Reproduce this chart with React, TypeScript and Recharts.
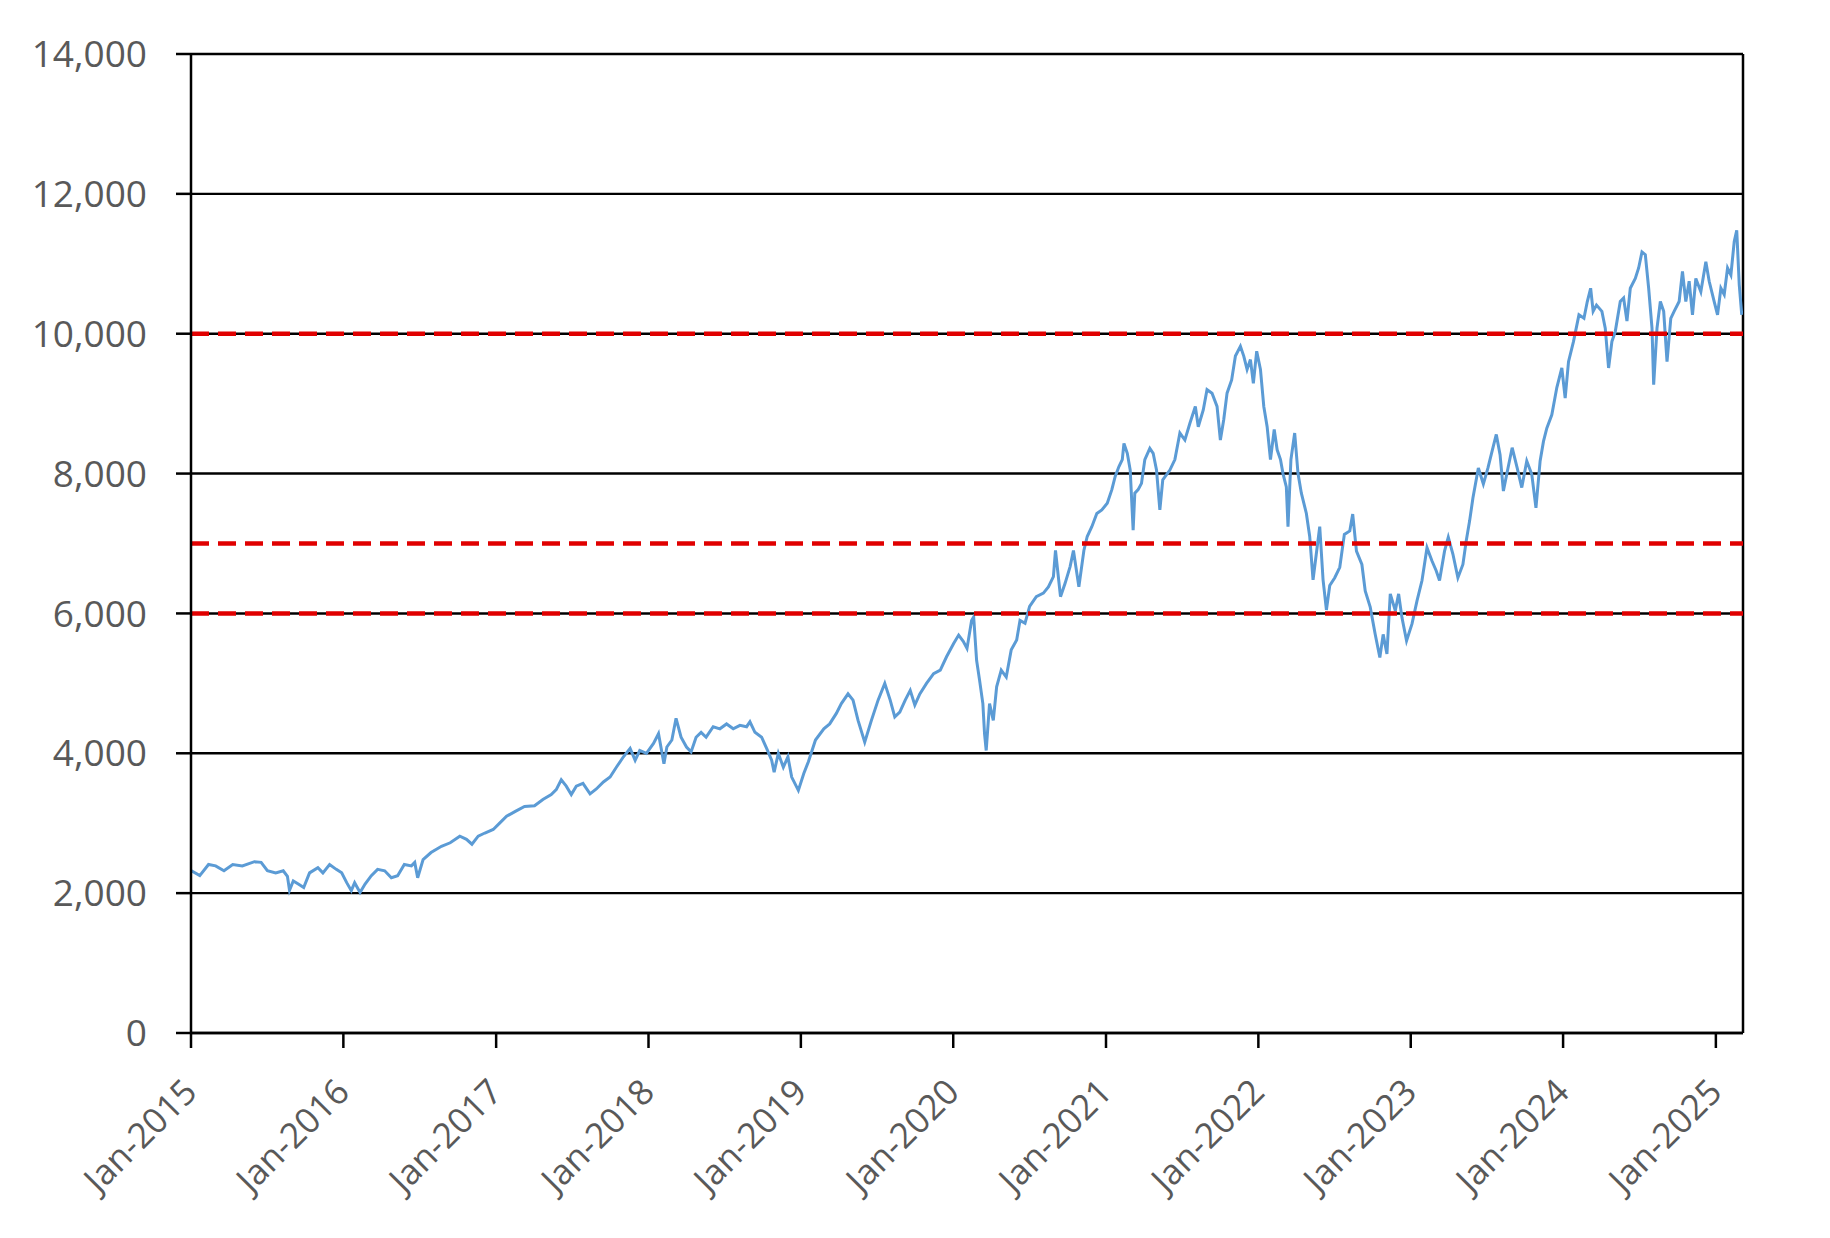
import React from "react";
import { LineChart, Line, XAxis, YAxis, CartesianGrid, ReferenceLine } from "recharts";

const dates: string[] = [
  "2015-01-02","2015-01-22","2015-02-12","2015-03-01","2015-03-21","2015-04-11","2015-05-04","2015-06-02","2015-06-18","2015-07-03","2015-07-23","2015-08-10","2015-08-20","2015-08-25","2015-09-03","2015-09-15","2015-09-28","2015-10-12","2015-11-01","2015-11-13","2015-11-29","2015-12-15","2015-12-28",
  "2016-01-09","2016-01-20","2016-01-28","2016-02-10","2016-02-22","2016-03-08","2016-03-23","2016-04-09","2016-04-25","2016-05-10","2016-05-26","2016-06-12","2016-06-20","2016-06-27","2016-07-10","2016-07-29","2016-08-23","2016-09-13","2016-10-06","2016-10-22","2016-11-04","2016-11-19","2016-12-05","2016-12-25",
  "2017-01-10","2017-01-26","2017-02-16","2017-03-10","2017-04-03","2017-04-23","2017-05-13","2017-05-25","2017-06-06","2017-06-18","2017-06-30","2017-07-12","2017-07-28","2017-08-14","2017-08-29","2017-09-15","2017-10-01","2017-10-16","2017-11-02","2017-11-18","2017-11-30","2017-12-11","2017-12-27",
  "2018-01-13","2018-01-25","2018-02-07","2018-02-14","2018-02-26","2018-03-08","2018-03-20","2018-04-02","2018-04-13","2018-04-25","2018-05-07","2018-05-19","2018-06-05","2018-06-21","2018-07-07","2018-07-23","2018-08-08","2018-08-24","2018-09-01","2018-09-13","2018-09-29","2018-10-11","2018-10-23","2018-10-29","2018-11-08","2018-11-20","2018-12-01","2018-12-10","2018-12-26",
  "2019-01-08","2019-01-19","2019-02-05","2019-02-25","2019-03-11","2019-03-27","2019-04-08","2019-04-24","2019-05-06","2019-05-18","2019-06-03","2019-06-19","2019-07-05","2019-07-21","2019-08-03","2019-08-14","2019-08-26","2019-09-08","2019-09-20","2019-10-01","2019-10-13","2019-10-29","2019-11-15","2019-12-01","2019-12-16",
  "2020-01-02","2020-01-14","2020-01-25","2020-02-03","2020-02-14","2020-02-19","2020-02-26","2020-03-04","2020-03-12","2020-03-16","2020-03-20","2020-03-28","2020-04-06","2020-04-14","2020-04-25","2020-05-07","2020-05-19","2020-06-01","2020-06-09","2020-06-21","2020-07-02","2020-07-18","2020-08-04","2020-08-16","2020-08-28","2020-09-02","2020-09-14","2020-09-25","2020-10-07","2020-10-15","2020-10-28","2020-11-09","2020-11-17","2020-11-28","2020-12-10","2020-12-22",
  "2021-01-04","2021-01-15","2021-01-23","2021-02-01","2021-02-09","2021-02-13","2021-02-21","2021-02-28","2021-03-07","2021-03-11","2021-03-19","2021-03-27","2021-04-04","2021-04-16","2021-04-24","2021-05-02","2021-05-10","2021-05-17","2021-06-03","2021-06-15","2021-06-27","2021-07-09","2021-07-21","2021-08-03","2021-08-10","2021-08-22","2021-08-31","2021-09-12","2021-09-24","2021-10-02","2021-10-10","2021-10-18","2021-10-29","2021-11-07","2021-11-19","2021-11-27","2021-12-05","2021-12-13","2021-12-20","2021-12-28",
  "2022-01-06","2022-01-14","2022-01-22","2022-01-30","2022-02-08","2022-02-15","2022-02-23","2022-03-01","2022-03-09","2022-03-13","2022-03-20","2022-03-29","2022-04-06","2022-04-14","2022-04-26","2022-05-04","2022-05-12","2022-05-20","2022-05-28","2022-06-05","2022-06-13","2022-06-21","2022-07-03","2022-07-15","2022-07-26","2022-08-08","2022-08-15","2022-08-24","2022-09-06","2022-09-14","2022-09-26","2022-10-08","2022-10-19","2022-10-27","2022-11-05","2022-11-13","2022-11-25","2022-12-03","2022-12-11","2022-12-22",
  "2023-01-04","2023-01-16","2023-01-28","2023-02-09","2023-02-21","2023-03-03","2023-03-11","2023-03-23","2023-04-01","2023-04-12","2023-04-24","2023-05-06","2023-05-14","2023-05-22","2023-05-30","2023-06-12","2023-06-24","2023-07-05","2023-07-17","2023-07-25","2023-08-03","2023-08-11","2023-08-19","2023-09-01","2023-09-13","2023-09-24","2023-10-06","2023-10-18","2023-10-28","2023-11-07","2023-11-15","2023-11-23","2023-12-05","2023-12-17","2023-12-29",
  "2024-01-06","2024-01-14","2024-01-26","2024-02-08","2024-02-20","2024-02-28","2024-03-07","2024-03-13","2024-03-21","2024-04-03","2024-04-11","2024-04-19","2024-04-27","2024-05-05","2024-05-17","2024-05-25","2024-06-02","2024-06-10","2024-06-22","2024-06-30","2024-07-08","2024-07-16","2024-07-24","2024-08-01","2024-08-05","2024-08-13","2024-08-21","2024-08-29","2024-09-06","2024-09-15","2024-09-23","2024-10-05","2024-10-13","2024-10-21","2024-10-29","2024-11-06","2024-11-14","2024-11-26","2024-12-08","2024-12-16","2024-12-28",
  "2025-01-05","2025-01-13","2025-01-21","2025-01-29","2025-02-06","2025-02-14","2025-02-20","2025-02-26","2025-03-04",
];

const values: number[] = [
  2320,2250,2410,2390,2320,2410,2390,2450,2440,2320,2290,2320,2240,2040,2175,2130,2080,2290,2365,2290,2410,2340,2290,
  2150,2035,2150,2010,2130,2250,2340,2320,2220,2250,2410,2390,2440,2220,2480,2580,2670,2720,2815,2770,2700,2815,2860,2910,
  3005,3100,3170,3240,3250,3340,3410,3480,3620,3530,3410,3530,3570,3420,3490,3590,3660,3800,3950,4070,3900,4040,4000,
  4140,4280,3850,4090,4190,4500,4230,4090,4020,4230,4300,4230,4380,4350,4420,4350,4400,4380,4450,4300,4230,4070,3900,3730,4000,3800,3950,3660,3470,
  3710,3880,4190,4350,4420,4570,4710,4850,4760,4470,4160,4470,4760,5000,4760,4520,4590,4760,4900,4690,4850,5000,5140,5190,5380,
  5570,5690,5600,5500,5900,5950,5330,5050,4710,4280,4040,4710,4470,4950,5190,5090,5480,5620,5900,5860,6100,6240,6290,6380,6525,6900,6240,6430,6670,6900,6380,6900,7100,7240,7430,7480,
  7575,7770,7960,8100,8200,8430,8290,8050,7190,7720,7770,7860,8200,8360,8290,8050,7480,7910,8050,8200,8580,8480,8720,8960,8670,8910,9200,9150,8960,8480,8770,9150,9340,9680,9820,9680,9490,9630,9290,9750,
  9490,8960,8670,8200,8630,8340,8200,8000,7810,7240,8200,8580,8000,7720,7430,7100,6480,6860,7240,6480,6050,6400,6510,6660,7130,7180,7420,6890,6700,6320,6090,5700,5370,5700,5420,6280,6040,6280,5940,5610,
  5850,6180,6470,6940,6750,6610,6470,6890,7090,6850,6510,6700,7040,7320,7650,8080,7850,8080,8370,8560,8270,7750,7990,8370,8080,7800,8180,7990,7510,8180,8460,8650,8840,9230,9510,
  9080,9600,9890,10270,10220,10460,10650,10320,10410,10320,10080,9510,9890,10030,10460,10510,10180,10650,10790,10940,11170,11130,10650,10080,9270,10080,10460,10320,9600,10220,10320,10460,10890,10460,10750,10270,10790,10600,11030,10750,10460,
  10270,10650,10560,10940,10840,11320,11480,10700,10270,
];

const yTicks: number[] = [0, 2000, 4000, 6000, 8000, 10000, 12000, 14000];
const tickYears: number[] = [2015, 2016, 2017, 2018, 2019, 2020, 2021, 2022, 2023, 2024, 2025];
const levels: number[] = [10000, 7000, 6000];

const X_MIN = Date.UTC(2015, 0, 1);
const X_MAX = Date.UTC(2025, 2, 7);
const xTicks = tickYears.map((y) => Date.UTC(y, 0, 1));

const data = dates.map((d, i) => ({ t: Date.parse(d + "T00:00:00Z"), v: values[i] }));

const FONT = "'Open Sans', 'DejaVu Sans', sans-serif";
const LABEL = "#595959";

const XTick = (props: any) => {
  const { x, y, payload } = props;
  const yr = new Date(payload.value).getUTCFullYear();
  return (
    <text
      transform={`translate(${x + 8},${y + 46}) rotate(-45)`}
      textAnchor="end"
      fill={LABEL}
      fontSize={35}
      fontFamily={FONT}
    >
      {`Jan-${yr}`}
    </text>
  );
};

const fmt = (v: number) => v.toLocaleString("en-US");

export default function App() {
  return (
    <div style={{ width: 1822, height: 1230, background: "#fff" }}>
      <LineChart
        width={1822}
        height={1230}
        data={data}
        margin={{ top: 46, right: 87, bottom: 55, left: 0 }}
      >
        <CartesianGrid horizontal vertical={false} stroke="#000" strokeWidth={2.4} />
        <XAxis
          dataKey="t"
          type="number"
          domain={[X_MIN, X_MAX]}
          ticks={xTicks}
          tick={<XTick />}
          tickSize={15}
          tickMargin={0}
          height={150}
          interval={0}
          stroke="#000"
          strokeWidth={2.5}
          axisLine={{ stroke: "#000", strokeWidth: 2.5 }}
          tickLine={{ stroke: "#000", strokeWidth: 2.5 }}
          allowDataOverflow
        />
        <YAxis
          type="number"
          domain={[0, 14000]}
          ticks={yTicks}
          tickFormatter={fmt}
          width={183}
          tickSize={15}
          tickMargin={29}
          interval={0}
          axisLine={{ stroke: "#000", strokeWidth: 2.5 }}
          tickLine={{ stroke: "#000", strokeWidth: 2.5 }}
          tick={{ fill: LABEL, fontSize: 37, fontFamily: FONT }}
        />
        <ReferenceLine x={X_MAX} stroke="#000" strokeWidth={2.5} />
        <Line
          type="linear"
          dataKey="v"
          stroke="#5B9BD5"
          strokeWidth={3}
          dot={false}
          isAnimationActive={false}
        />
        {levels.map((lv) => (
          <ReferenceLine
            key={lv}
            y={lv}
            stroke="#E00000"
            strokeWidth={4.5}
            strokeDasharray="18 9"
          />
        ))}
      </LineChart>
    </div>
  );
}
